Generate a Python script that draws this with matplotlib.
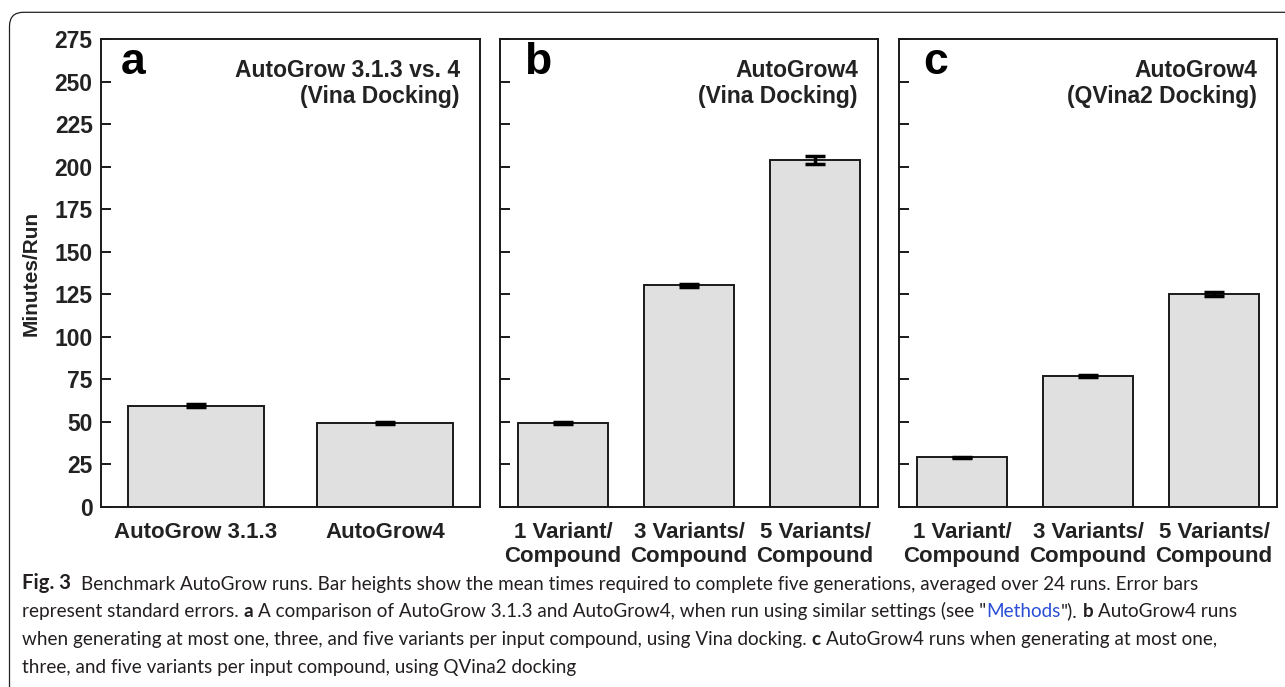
import matplotlib.pyplot as plt
from matplotlib.patches import FancyBboxPatch

plt.rcParams['font.family'] = ['Liberation Sans', 'DejaVu Sans']

# data (minutes per run, mean +/- standard error)
labels_a = ['AutoGrow 3.1.3', 'AutoGrow4']
minutes_a = [59.6, 49.4]
err_a = [1.0, 0.5]

labels_variants = ['1 Variant/\nCompound', '3 Variants/\nCompound', '5 Variants/\nCompound']
minutes_b = [49.4, 130.2, 203.8]
err_b = [0.5, 1.0, 2.4]
minutes_c = [29.3, 77.2, 125.2]
err_c = [0.3, 0.6, 1.4]

panel_letters = ['a', 'b', 'c']
panel_titles = ['AutoGrow 3.1.3 vs. 4\n(Vina Docking)',
                'AutoGrow4\n(Vina Docking)',
                'AutoGrow4\n(QVina2 Docking)']
yticks = list(range(0, 276, 25))

W, H = 1285, 687
fig = plt.figure(figsize=(W / 100, H / 100), dpi=100)

# outer rounded frame, runs off the right and bottom edge like in the page crop
frame = FancyBboxPatch((0.095, -0.6), 13.5, 6.747 + 0.6,
                       boxstyle='round,pad=0,rounding_size=0.14',
                       transform=fig.dpi_scale_trans, fill=False,
                       edgecolor='#222222', linewidth=0.9)
fig.add_artist(frame)

lefts = [101, 500, 899]
panels = [(labels_a, minutes_a, err_a), (labels_variants, minutes_b, err_b),
          (labels_variants, minutes_c, err_c)]
bottom_px, top_px = 507, 39

axes = []
for i, (labs, vals, errs) in enumerate(panels):
    left = lefts[i]
    width = 379 if i == 0 else 378
    ax = fig.add_axes([left / W, 1 - bottom_px / H, width / W, (bottom_px - top_px) / H])
    x = list(range(len(vals)))
    ax.bar(x, vals, width=0.72, color='#e0e0e0', edgecolor='#1a1a1a', linewidth=1.4, zorder=2)
    ax.errorbar(x, vals, yerr=errs, fmt='none', ecolor='black', elinewidth=2.5,
                capsize=7, capthick=2.5, zorder=3)
    ax.set_xlim(-0.5, len(vals) - 0.5)
    ax.set_ylim(0, 275)
    ax.set_yticks(yticks)
    ax.set_xticks(x)
    ax.set_xticklabels(labs, fontsize=16, fontweight='bold', color='#222222',
                       linespacing=1.2)
    ax.tick_params(axis='x', length=0, pad=11)
    ax.tick_params(axis='y', direction='in', length=7, width=1.4, colors='#1a1a1a',
                   labelsize=16.5, pad=6)
    for lab in ax.get_yticklabels():
        lab.set_fontweight('bold')
        lab.set_color('#222222')
    if i > 0:
        ax.set_yticklabels([])
    for sp in ax.spines.values():
        sp.set_linewidth(1.4)
        sp.set_color('#1a1a1a')
    ax.text(0.052 if i == 0 else 0.064, 0.993, panel_letters[i], transform=ax.transAxes,
            fontsize=32, fontweight='bold', va='top', ha='left', color='black')
    ax.text(0.947, 0.958, panel_titles[i], transform=ax.transAxes, fontsize=16.5,
            fontweight='bold', va='top', ha='right', color='#222222', linespacing=1.2)
    axes.append(ax)

axes[0].set_ylabel('Minutes/Run', fontsize=15, fontweight='bold', color='#222222',
                   labelpad=10)

# caption below the panels
cap = fig.add_axes([0, 0, 1, 1])
cap.axis('off')
cap.set_zorder(-1)

caption_lines = [
    [('Fig. 3', 'fig'), ('  Benchmark AutoGrow runs. Bar heights show the mean times required to complete five generations, averaged over 24 runs. Error bars', 'n')],
    [('represent standard errors. ', 'n'), ('a', 'b'), (' A comparison of AutoGrow 3.1.3 and AutoGrow4, when run using similar settings (see "', 'n'),
     ('Methods', 'l'), ('"). ', 'n'), ('b', 'b'), (' AutoGrow4 runs', 'n')],
    [('when generating at most one, three, and five variants per input compound, using Vina docking. ', 'n'), ('c', 'b'),
     (' AutoGrow4 runs when generating at most one,', 'n')],
    [('three, and five variants per input compound, using QVina2 docking', 'n')],
]
caption_y = [589, 617, 645, 673]
cap_font = ['Lato', 'DejaVu Sans']
cap_size = 13.6
space_pt = 3.6

for line, ypx in zip(caption_lines, caption_y):
    prev = None
    prev_s = ''
    for s, style in line:
        gap = 0
        if prev_s.endswith(' ') or s.startswith(' '):
            gap = space_pt * (2 if s.startswith('  ') else 1)
        kw = dict(fontsize=cap_size, family=cap_font, color='#231f20', va='baseline', ha='left')
        if style == 'b':
            kw['fontweight'] = 'bold'
        elif style == 'fig':
            kw['fontweight'] = 'bold'
            kw['fontsize'] = cap_size + 1
        elif style == 'l':
            kw['color'] = '#2a4fd6'
        if prev is None:
            prev = cap.text(22 / W, 1 - ypx / H, s.strip(), transform=cap.transAxes, **kw)
        else:
            prev = cap.annotate(s.strip(), xy=(1, 0), xycoords=prev, xytext=(gap, 0),
                                textcoords='offset points', **{**kw, 'va': 'bottom'})
        prev_s = s

fig.savefig('out.png', dpi=100)
